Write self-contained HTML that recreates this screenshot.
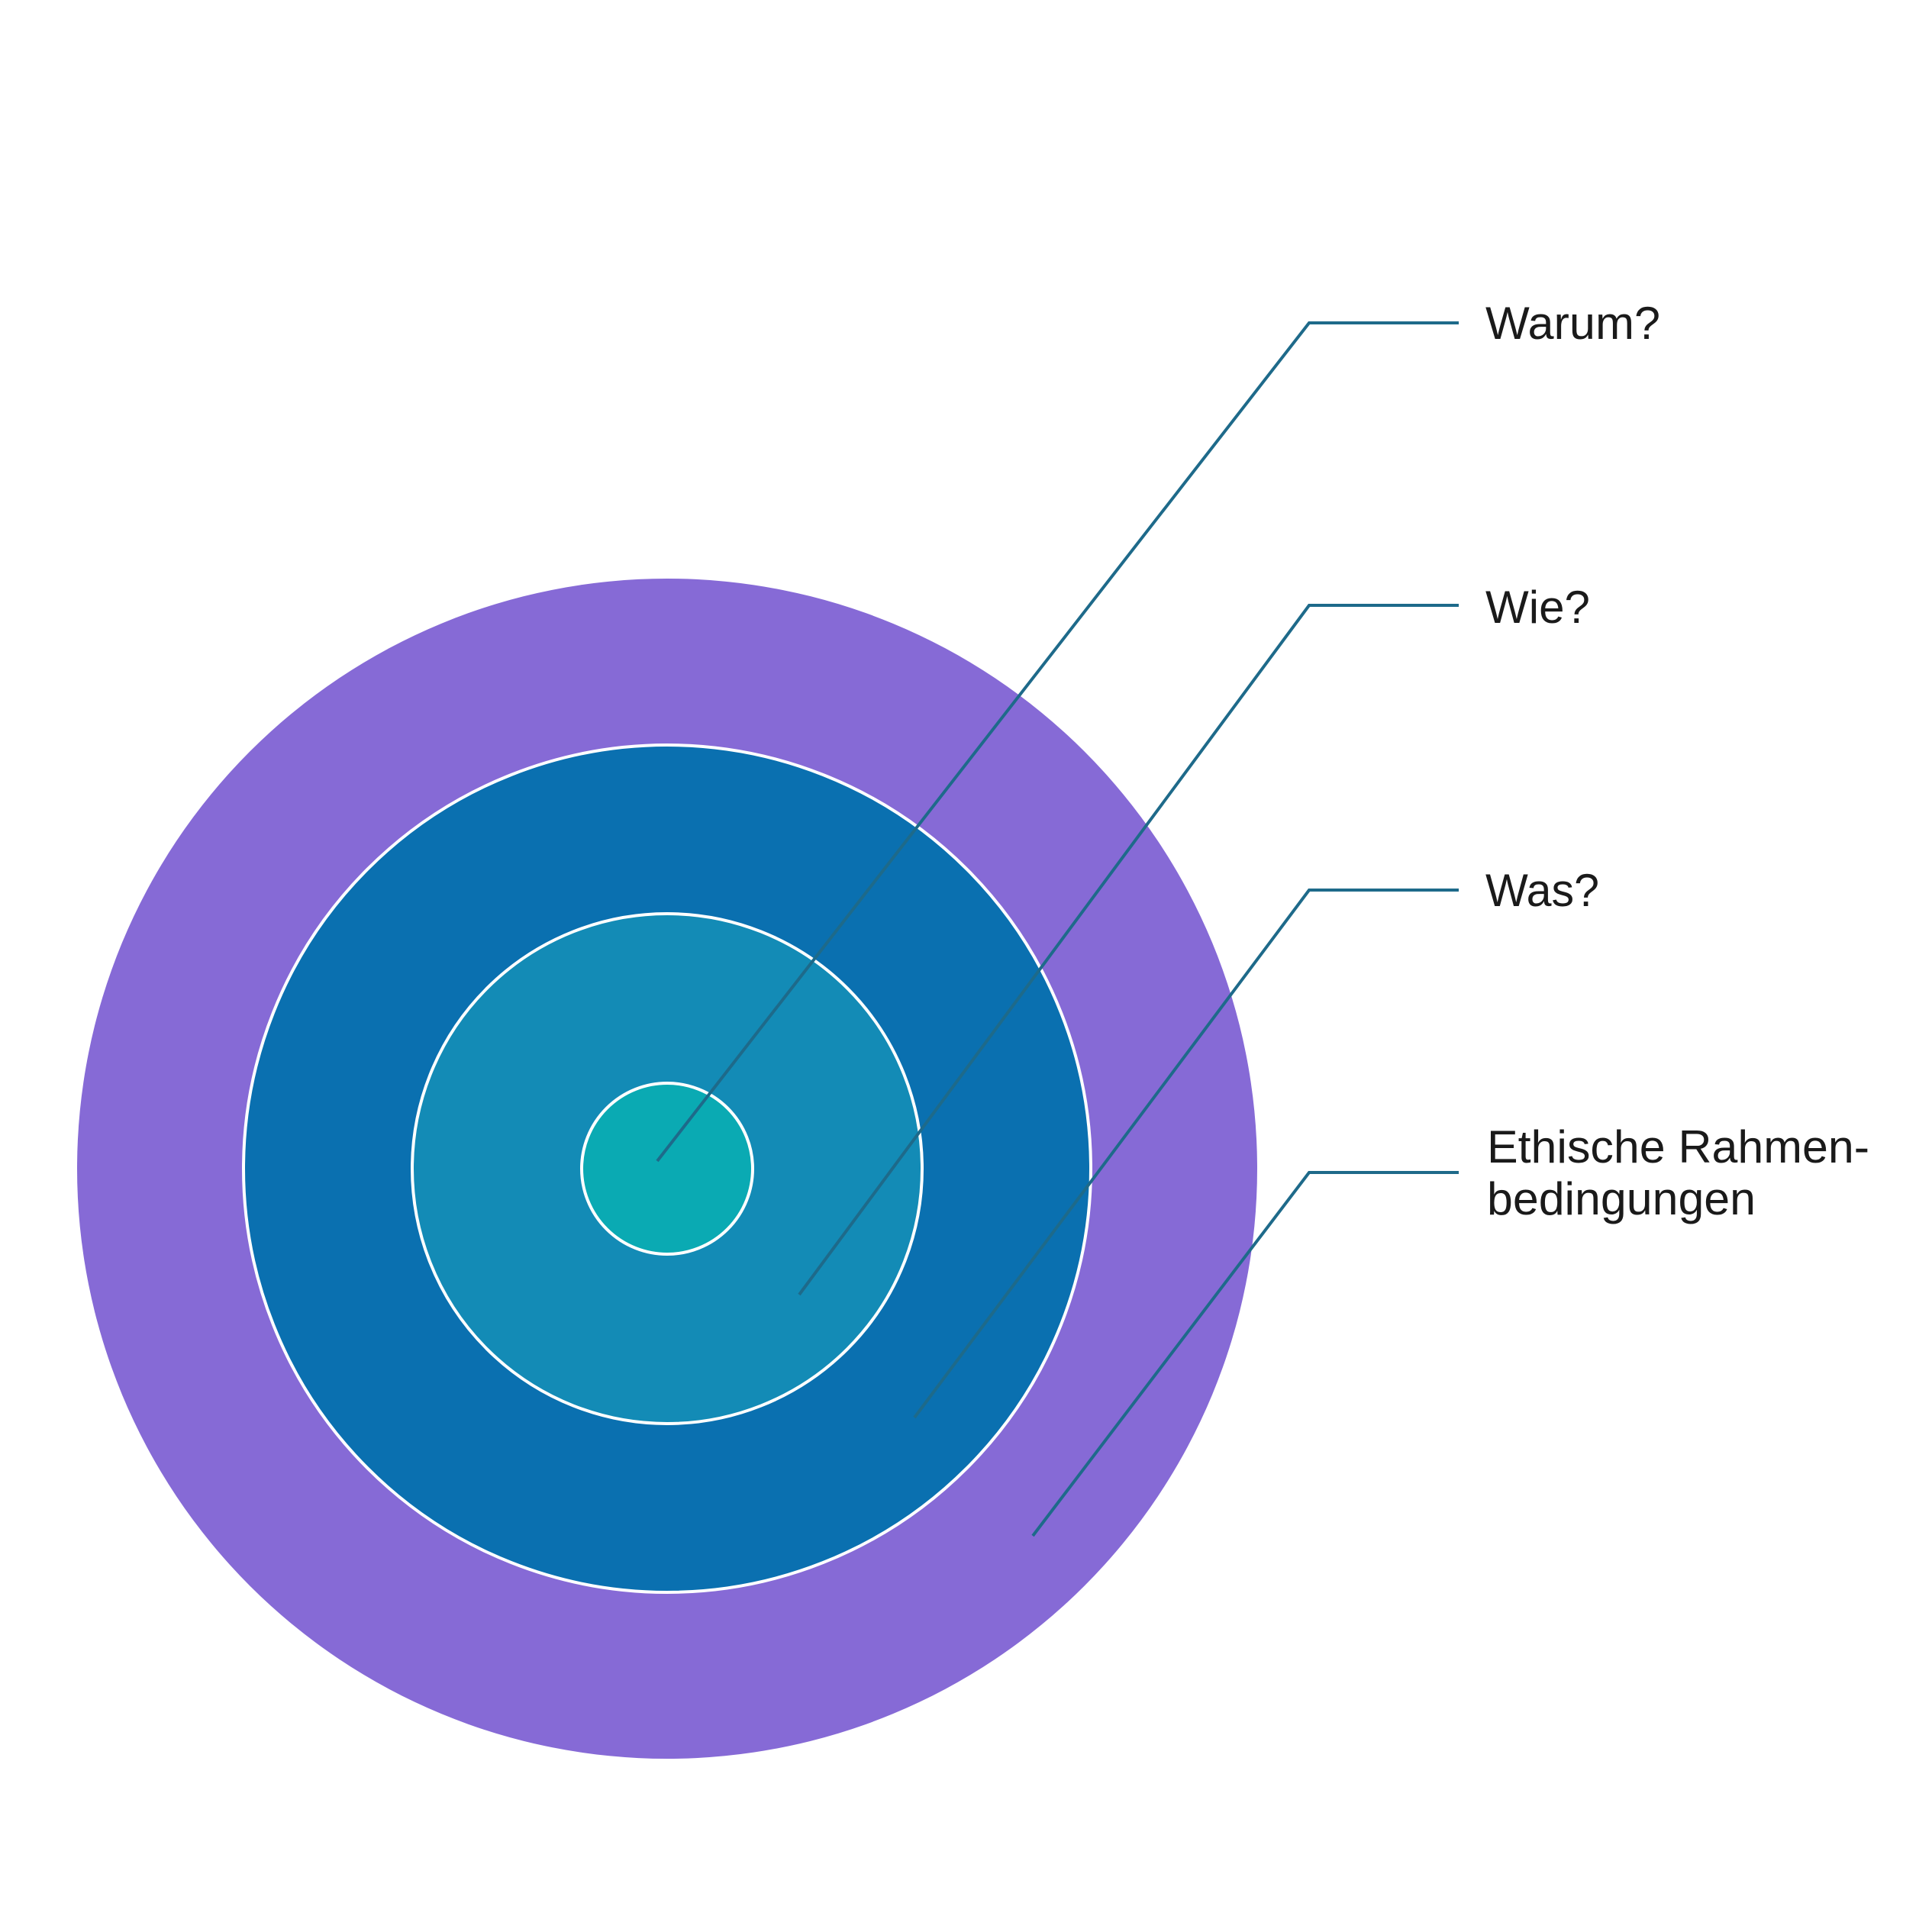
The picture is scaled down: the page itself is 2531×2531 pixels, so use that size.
<!DOCTYPE html>
<html><head><meta charset="utf-8"><style>html,body{margin:0;padding:0;background:#fff}svg{display:block}</style></head>
<body>
<svg width="2531" height="2531" viewBox="0 0 2531 2531" xmlns="http://www.w3.org/2000/svg">
<rect width="2531" height="2531" fill="#fff"/>
<circle cx="874" cy="1531" r="773" fill="#866AD6"/>
<circle cx="874" cy="1531" r="555" fill="#0A70B0" stroke="#fff" stroke-width="4"/>
<circle cx="874" cy="1531" r="334" fill="#138BB6" stroke="#fff" stroke-width="4"/>
<circle cx="874" cy="1531" r="112" fill="#0AAAB3" stroke="#fff" stroke-width="4"/>
<g fill="none" stroke="#1E6A8A" stroke-width="4">
<polyline points="861,1521 1715,423 1911,423"/>
<polyline points="1047,1696 1715,793 1911,793"/>
<polyline points="1198,1857 1715,1166 1911,1166"/>
<polyline points="1353,2012 1715,1536 1911,1536"/>
</g>
<g font-family="Liberation Sans, sans-serif" font-size="60" fill="#1a1a1a">
<text x="1946" y="444" textLength="229" lengthAdjust="spacingAndGlyphs">Warum?</text>
<text x="1946" y="816" textLength="137" lengthAdjust="spacingAndGlyphs">Wie?</text>
<text x="1946" y="1187" textLength="149" lengthAdjust="spacingAndGlyphs">Was?</text>
<text x="1948" y="1523" textLength="501" lengthAdjust="spacingAndGlyphs">Ethische Rahmen-</text>
<text x="1948" y="1591" textLength="352" lengthAdjust="spacingAndGlyphs">bedingungen</text>
</g>
</svg>
</body></html>
